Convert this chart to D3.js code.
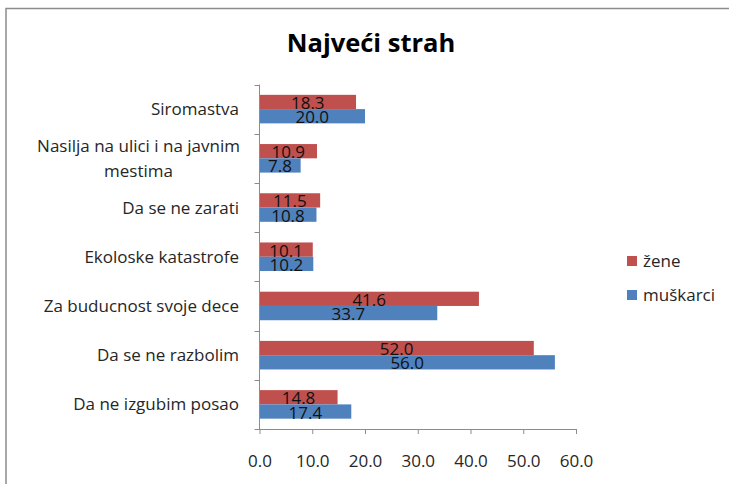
<!DOCTYPE html>
<html>
<head>
<meta charset="utf-8">
<title>Najveći strah</title>
<script src="https://cdn.jsdelivr.net/npm/d3@7"></script>
<style>
  body { margin: 0; background: #fff; }
  text { font-family: "Open Sans", sans-serif; }
</style>
</head>
<body>
<svg id="svg"></svg>
<script>
var width = 729;
var height = 484;

// data
var categories = ['Siromastva', 'Nasilja na ulici i na javnim mestima', 'Da se ne zarati',
  'Ekoloske katastrofe', 'Za buducnost svoje dece', 'Da se ne razbolim', 'Da ne izgubim posao'];
var series = ['žene', 'muškarci'];
var zene = [18.3, 10.9, 11.5, 10.1, 41.6, 52.0, 14.8];
var muskarci = [20.0, 7.8, 10.8, 10.2, 33.7, 56.0, 17.4];
var xTicks = [0, 10, 20, 30, 40, 50, 60];
var colors = ['#c0504d', '#4f81bd'];

var values = [zene, muskarci];
var fs = 17;

var svg = d3.select('#svg')
  .attr('width', width)
  .attr('height', height);

// chart frame
svg.append('rect')
  .attr('x', 6).attr('y', 8.5)
  .attr('width', 760).attr('height', 520)
  .attr('fill', 'none')
  .attr('stroke', '#8c8c8c')
  .attr('stroke-width', 1.5);

svg.append('text')
  .attr('x', 371).attr('y', 52)
  .attr('text-anchor', 'middle')
  .attr('font-size', 25.5)
  .attr('font-weight', 'bold')
  .attr('fill', '#000')
  .text('Najveći strah');

var x = d3.scaleLinear().domain([0, 60]).range([259.5, 576]);
var y = d3.scaleBand().domain(categories).range([84.5, 429]).padding(0);
var bw = y.bandwidth();
var y1 = d3.scaleBand().domain(series).range([bw * 0.21, bw * 0.79]);

// bars
var groups = svg.selectAll('g.cat')
  .data(categories)
  .join('g')
  .attr('class', 'cat')
  .attr('transform', function (d) { return 'translate(0,' + y(d) + ')'; });

groups.selectAll('rect')
  .data(function (d, i) {
    return series.map(function (s, j) { return { s: s, v: values[j][i], j: j }; });
  })
  .join('rect')
  .attr('x', x(0))
  .attr('y', function (d) { return y1(d.s); })
  .attr('width', function (d) { return x(d.v) - x(0); })
  .attr('height', y1.bandwidth())
  .attr('fill', function (d) { return colors[d.j]; });

groups.selectAll('text.val')
  .data(function (d, i) {
    return series.map(function (s, j) { return { s: s, v: values[j][i] }; });
  })
  .join('text')
  .attr('class', 'val')
  .attr('x', function (d) { return (x(d.v) + x(0)) / 2; })
  .attr('y', function (d) { return y1(d.s) + y1.bandwidth() / 2 + 7; })
  .attr('text-anchor', 'middle')
  .attr('font-size', fs)
  .attr('fill', '#111')
  .text(function (d) { return d3.format('.1f')(d.v); });

// x axis
var xAxis = svg.append('g')
  .attr('transform', 'translate(0,429)')
  .call(d3.axisBottom(x).tickValues(xTicks).tickSize(5).tickPadding(21)
    .tickFormat(d3.format('.1f')).tickSizeOuter(0));
xAxis.select('.domain').attr('stroke', '#8c8c8c').attr('d', 'M254.5,0.5H576.5');
xAxis.selectAll('.tick line').attr('stroke', '#8c8c8c');
xAxis.selectAll('.tick text')
  .attr('font-size', fs)
  .attr('fill', '#262626')
  .attr('font-family', '"Open Sans", sans-serif');

// category axis
var yAxis = svg.append('g');
yAxis.append('line')
  .attr('x1', x(0)).attr('x2', x(0))
  .attr('y1', y.range()[0]).attr('y2', y.range()[1])
  .attr('stroke', '#8c8c8c');
yAxis.selectAll('line.tk')
  .data(categories)
  .join('line')
  .attr('class', 'tk')
  .attr('x1', x(0) - 5).attr('x2', x(0))
  .attr('y1', function (d) { return Math.round(y(d)) + 0.5; })
  .attr('y2', function (d) { return Math.round(y(d)) + 0.5; })
  .attr('stroke', '#8c8c8c');

var labels = yAxis.selectAll('text.cat')
  .data(categories)
  .join('text')
  .attr('class', 'cat')
  .attr('font-size', fs)
  .attr('fill', '#262626')
  .attr('text-anchor', 'end')
  .attr('x', 239)
  .attr('y', function (d) { return y(d) + bw / 2; });

labels.each(function (d) {
  var el = d3.select(this);
  var words = d.split(' ');
  var lines = [];
  var line = [];
  var tspan = el.append('tspan');
  words.forEach(function (w) {
    line.push(w);
    tspan.text(line.join(' '));
    if (tspan.node().getComputedTextLength() > 225 && line.length > 1) {
      line.pop();
      lines.push(line.join(' '));
      line = [w];
    }
  });
  lines.push(line.join(' '));
  tspan.remove();
  var lh = 25;
  var top = y(d) + bw / 2 - (lines.length - 1) * lh / 2 + 6;
  var spans = lines.map(function (l, k) {
    return el.append('tspan').attr('x', 239).attr('y', top + k * lh).text(l);
  });
  if (lines.length > 1) {
    var maxW = d3.max(spans, function (s) { return s.node().getComputedTextLength(); });
    el.attr('text-anchor', 'middle');
    spans.forEach(function (s) { s.attr('x', 240 - maxW / 2); });
  }
});

// legend
var legend = svg.selectAll('g.leg')
  .data(series)
  .join('g')
  .attr('class', 'leg')
  .attr('transform', function (d, i) { return 'translate(627,' + (256 + i * 34) + ')'; });
legend.append('rect')
  .attr('width', 10).attr('height', 10)
  .attr('fill', function (d, i) { return colors[i]; });
legend.append('text')
  .attr('x', 16).attr('y', 11)
  .attr('font-size', fs)
  .attr('fill', '#262626')
  .text(function (d) { return d; });
</script>
</body>
</html>
